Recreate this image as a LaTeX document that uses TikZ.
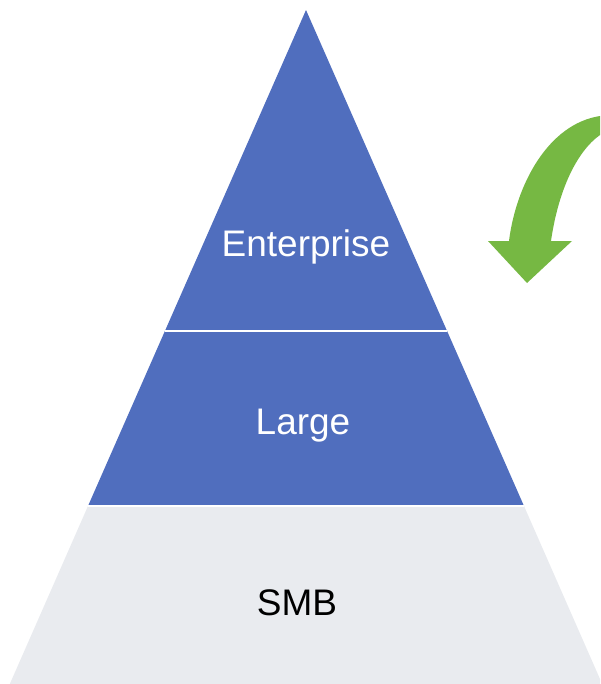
\documentclass[tikz,border=0pt]{standalone}
\usepackage{fontspec}
\setmainfont{Liberation Sans}
\usepackage{xcolor}
\definecolor{tierblue}{HTML}{506EBE}
\definecolor{tiergray}{HTML}{E9EBEF}
\definecolor{arrowgreen}{HTML}{76B843}

\begin{document}
\begin{tikzpicture}[x=0.025cm,y=-0.025cm]
    \tikzstyle{tier}=[font=\fontsize{26.3}{30}\selectfont,inner sep=0pt,anchor=base]
    \tikzstyle{gap}=[white,line width=1.4pt]

    \clip (0,0) rectangle (600,684);

    % Pyramid corners
    \coordinate (apex)  at (306,10);
    \coordinate (topL)  at (164.6,331);
    \coordinate (topR)  at (447.4,331);
    \coordinate (midL)  at (88,506);
    \coordinate (midR)  at (524,506);
    \coordinate (baseL) at (9.8,684);
    \coordinate (baseR) at (602.2,684);

    \fill[tiergray] (midL) -- (midR) -- (baseR) -- (baseL) -- cycle;
    \fill[tierblue] (apex) -- (midR) -- (midL) -- cycle;

    % Separators
    \draw[gap] (topL) -- (topR);
    \draw[gap] (midL) -- (midR);

    \node [tier,text=white] (enterprise) at (306,256.5) {Enterprise};
    \node [tier,text=white] (large)      at (303,434) {Large};
    \node [tier,text=black] (smb)        at (297,615) {SMB};

    % Curved arrow
    \fill[arrowgreen] (600,116) .. controls (548,124) and (516,185) .. (509,241)
        -- (488,241) -- (527,283) -- (572,241) -- (551,241)
        .. controls (558,192) and (576,152) .. (600,135) -- cycle;
\end{tikzpicture}
\end{document}
